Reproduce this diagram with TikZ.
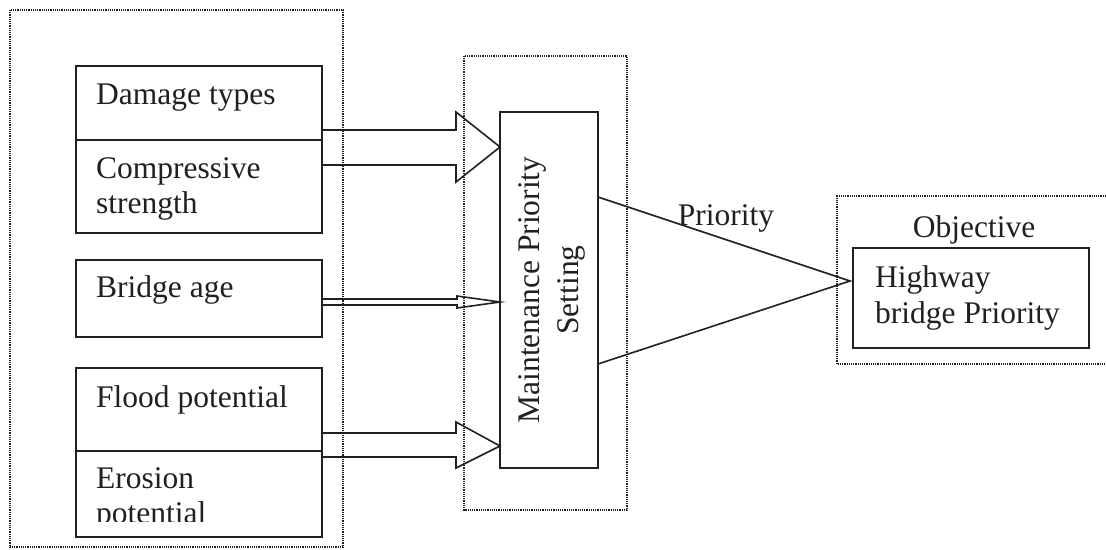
\documentclass[tikz,border=0pt]{standalone}
\usepackage{fontspec}
\setmainfont{Liberation Serif}
\usetikzlibrary{calc}
\definecolor{ink}{RGB}{35,31,32}

\begin{document}
\begin{tikzpicture}[x=1pt,y=1pt,yscale=-1,xscale=1,
  box/.style={draw=ink,line width=1.6,inner sep=0,outer sep=0},
  txt/.style={text=ink,inner sep=0,align=left,font=\fontsize{31.5}{34.5}\selectfont},
  blockline/.style={draw=ink,line width=1.6,line join=miter},
  dotbox/.style={draw=ink,line width=1.2,dash pattern=on 1.2pt off 1pt}]
\useasboundingbox (0,0) rectangle (1106,549);

%Shape: Rectangle [dotted frames]
\draw[dotbox] (10,10) rectangle (343,547);
\draw[dotbox] (464,56) rectangle (627,510);
\draw[dotbox] (1106,196) -- (837,196) -- (837,364) -- (1106,364);

%Shape: Rectangle [input boxes]
\node[box,minimum width=246,minimum height=74] (dmg) at (199,103) {};
\node[box,minimum width=246,minimum height=93] (cmp) at (199,186.5) {};
\node[box,minimum width=246,minimum height=77] (bra) at (199,298.5) {};
\node[box,minimum width=246,minimum height=83] (fld) at (199,409.5) {};
\node[box,minimum width=246,minimum height=86] (ero) at (199,494) {};

%Shape: Rectangle [setting box]
\node[box,minimum width=98,minimum height=356] (mps) at (549,290) {};
%Shape: Rectangle [objective box]
\node[box,minimum width=236,minimum height=100] (hwy) at (971,298) {};

% tips on the setting box and on the objective box
\coordinate (tipA) at ($(mps.north west)+(0,35)$);
\coordinate (tipB) at ($(mps.north west)+(0,190)$);
\coordinate (tipC) at ($(mps.south west)+(0,-22)$);
\coordinate (tipD) at ($(hwy.west)+(-3,-17)$);

%Block arrows
\draw[blockline] ($(dmg.south east)+(0,-10)$) -- ++(134,0) -- ++(0,-18) -- (tipA) -- ++(-44,35) -- ++(0,-17) -- ++(-134,0);
\draw[blockline] ($(bra.east)+(0,0.5)$) -- ++(135,0) -- ++(0,-3) -- (tipB) -- ++(-43,6) -- ++(0,-3) -- ++(-135,0);
\draw[blockline] ($(fld.south east)+(0,-18)$) -- ++(134,0) -- ++(0,-11) -- (tipC) -- ++(-44,22) -- ++(0,-11) -- ++(-134,0);

%Straight Lines [priority wedge]
\draw[blockline] ($(mps.north east)+(0,85)$) -- (tipD) -- ($(mps.south east)+(0,-104)$);

% Text Node
\node[txt,anchor=base west] (dmgT) at (96,104) {Damage types};
% Text Node
\node[txt,anchor=base west] (cmpT) at (96,213) {Compressive\\strength};
% Text Node
\node[txt,anchor=base west] (braT) at (96,297) {Bridge age};
% Text Node
\node[txt,anchor=base west] (fldT) at (96,407) {Flood potential};
% Text Node
\begin{scope}
\clip (77,452) rectangle (321,521);
\node[txt,anchor=base west] (eroT) at (96,523) {Erosion\\potential};
\end{scope}
% Text Node
\node[txt,align=center,rotate=90] (mpsT) at ($(mps.center)+(3,0)$) {Maintenance Priority\\[4pt]Setting};
% Text Node
\node[txt,anchor=base] (prioT) at (726,225) {Priority};
% Text Node
\node[txt,anchor=base] (objT) at (974,237) {Objective};
% Text Node
\node[txt,anchor=base west] (hwyT) at (875,323) {Highway\\[1pt]bridge Priority};

\end{tikzpicture}
\end{document}
